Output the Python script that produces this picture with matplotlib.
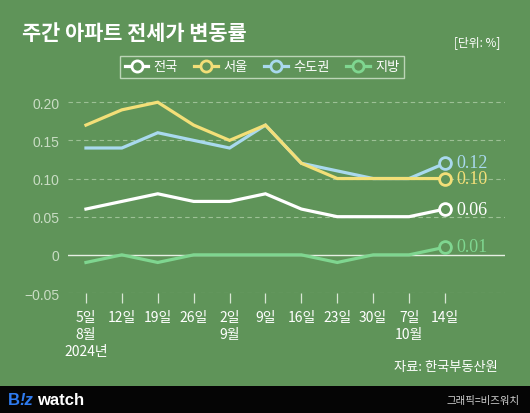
import matplotlib
matplotlib.use("Agg")
import matplotlib.pyplot as plt
from matplotlib.lines import Line2D
from matplotlib.patches import Rectangle

plt.rcParams['font.family'] = ['Noto Sans CJK KR', 'DejaVu Sans']

dates = ["5일\n8월\n2024년", "12일", "19일", "26일", "2일\n9월", "9일", "16일", "23일", "30일", "7일\n10월", "14일"]
nation = [0.06, 0.07, 0.08, 0.07, 0.07, 0.08, 0.06, 0.05, 0.05, 0.05, 0.06]
seoul = [0.17, 0.19, 0.20, 0.17, 0.15, 0.17, 0.12, 0.10, 0.10, 0.10, 0.10]
capital = [0.14, 0.14, 0.16, 0.15, 0.14, 0.17, 0.12, 0.11, 0.10, 0.10, 0.12]
local = [-0.01, 0.0, -0.01, 0.0, 0.0, 0.0, 0.0, -0.01, 0.0, 0.0, 0.01]
series_names = ["전국", "서울", "수도권", "지방"]
end_labels = ["0.06", "0.10", "0.12", "0.01"]
yticks = [-0.05, 0, 0.05, 0.10, 0.15, 0.20]
ytick_labels = ["\u22120.05", "0", "0.05", "0.10", "0.15", "0.20"]

BG = "#5f9459"
colors = ["#ffffff", "#f3df78", "#a9d9ee", "#7fd690"]
series = [nation, seoul, capital, local]

fig = plt.figure(figsize=(5.3, 4.14), dpi=100, facecolor=BG)
ax = fig.add_axes([68/530, 1-294/414, (505-68)/530, (294-99.4)/414])
ax.set_facecolor(BG)
x = list(range(len(dates)))
ax.set_xlim(-0.5, 10 + 60/35.9)
ax.set_ylim(-0.05, 0.205)

for yv in [-0.05, 0.05, 0.10, 0.15, 0.20]:
    ax.axhline(yv, color="#9cc095", lw=0.8, ls=(0, (4, 3)), zorder=1)
ax.axhline(0, color="#e6efe3", lw=1.0, zorder=1)

order = [3, 0, 2, 1]
for i in order:
    ax.plot(x, series[i], color=colors[i], lw=2.3, zorder=3, solid_joinstyle='miter')
    ax.plot(x[-1], series[i][-1], marker='o', ms=8.5, mfc=BG, mec=colors[i], mew=2, zorder=4)

offsets = {0: 0, 1: 0, 2: 0.0015, 3: 0.0015}
for i in range(4):
    ax.text(x[-1] + 0.32, series[i][-1] + offsets[i], end_labels[i], color=colors[i],
            fontsize=13, family=['Liberation Serif'], va='center', ha='left', zorder=5)

for s in ax.spines.values():
    s.set_visible(False)
ax.set_yticks(yticks)
ax.set_yticklabels(ytick_labels, family=['Liberation Sans', 'DejaVu Sans'])
ax.tick_params(axis='y', length=0, labelsize=10, labelcolor="#c9dcc4", pad=6)
ax.set_xticks(x)
ax.set_xticklabels(dates, linespacing=1.3)
ax.tick_params(axis='x', direction='out', length=7, width=0.9, color="#d8e6d4",
               labelsize=10, labelcolor="white", pad=5)

# Title & annotations
fig.text(22/530, 1-33/414, "주간 아파트 전세가 변동률", color="white", fontsize=15,
         fontweight='bold', va='center', ha='left')
fig.text(500/530, 1-43/414, "[단위: %]", color="white", fontsize=8.5, va='center', ha='right')
fig.text(498/530, 1-368/414, "자료: 한국부동산원", color="white", fontsize=9.5, va='center', ha='right')

# Legend
handles = [Line2D([0], [0], color=colors[i], lw=2.3, marker='o', ms=8, mfc=BG, mec=colors[i], mew=2)
           for i in range(4)]
leg = fig.legend(handles, series_names, loc='center', bbox_to_anchor=(262/530, 1-68/414),
                 ncol=4, frameon=True, fontsize=9.5, labelcolor='white', handlelength=1.8,
                 handletextpad=0.4, columnspacing=1.25, borderpad=0.35, fancybox=False)
leg.get_frame().set_facecolor(BG)
leg.get_frame().set_edgecolor("#d4e6cf")
leg.get_frame().set_linewidth(1.0)

# Bottom bar
fig.patches.append(Rectangle((0, 0), 1, 27/414, transform=fig.transFigure, facecolor="#050505",
                             edgecolor='none', zorder=0))
fig.text(8/530, 1-401/414, "B", color="#2e7bf0", fontsize=12, fontweight='bold', va='center',
         ha='left', family=['Liberation Sans'])
fig.text(19/530, 1-401/414, "!z", color="#2e7bf0", fontsize=12, fontweight='bold', va='center',
         ha='left', family=['Liberation Sans'], style='italic')
fig.text(37/530, 1-401/414, "watch", color="white", fontsize=12, fontweight='bold', va='center',
         ha='left', family=['Liberation Sans'])
fig.text(520/530, 1-401/414, "그래픽=비즈워치", color="#d0d0d0", fontsize=7.5, va='center', ha='right')

fig.savefig("out.png", dpi=100, facecolor=BG)
